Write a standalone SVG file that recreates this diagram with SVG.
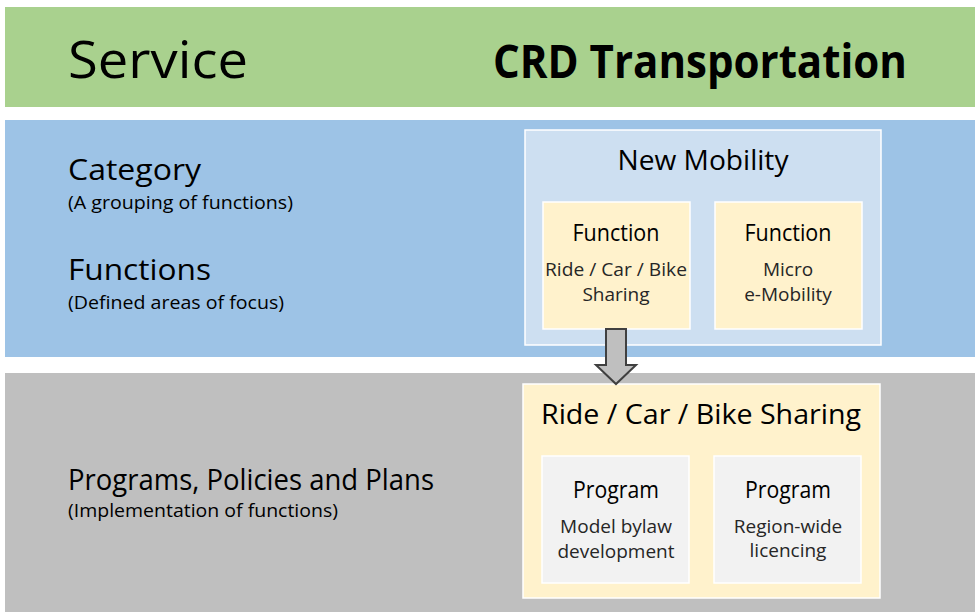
<svg xmlns="http://www.w3.org/2000/svg" width="977" height="612" viewBox="0 0 977 612">
<style>
text{font-family:"Open Sans","Liberation Sans",sans-serif;fill:#000}
.t{font-size:23px;text-anchor:middle}
.s{font-size:19px;text-anchor:middle;fill:#262626}
.h{font-size:30px}
.sub{font-size:19px}
.fn{fill:#fff2cc;stroke:#fff;stroke-width:1.5}
.pg{fill:#f2f2f2;stroke:#fff;stroke-width:1.5}
</style>
<rect width="977" height="612" fill="#fff"/>
<g id="band-service">
<rect x="5" y="7" width="970" height="100" fill="#a9d18e"/>
<text x="68" y="78" font-size="52" textLength="180" lengthAdjust="spacingAndGlyphs">Service</text>
<text x="493" y="78" font-size="46" font-weight="bold" textLength="414" lengthAdjust="spacingAndGlyphs">CRD Transportation</text>
</g>
<g id="band-category">
<rect x="5" y="120" width="970" height="237" fill="#9dc3e6"/>
<text class="h" x="68" y="180" textLength="133" lengthAdjust="spacingAndGlyphs">Category</text>
<text class="sub" x="68" y="209" textLength="225" lengthAdjust="spacingAndGlyphs">(A grouping of functions)</text>
<text class="h" x="68" y="280" textLength="143" lengthAdjust="spacingAndGlyphs">Functions</text>
<text class="sub" x="68" y="309" textLength="216" lengthAdjust="spacingAndGlyphs">(Defined areas of focus)</text>
</g>
<g id="band-programs">
<rect x="5" y="373" width="970" height="239" fill="#bfbfbf"/>
<text class="h" x="68" y="490" textLength="366" lengthAdjust="spacingAndGlyphs">Programs, Policies and Plans</text>
<text class="sub" x="68" y="517" textLength="270" lengthAdjust="spacingAndGlyphs">(Implementation of functions)</text>
</g>
<g id="new-mobility">
<rect x="525" y="130" width="356" height="215" fill="#cddff1" stroke="#fff" stroke-width="1.5"/>
<text x="703" y="170" font-size="28" text-anchor="middle" textLength="171" lengthAdjust="spacingAndGlyphs">New Mobility</text>
</g>
<g id="function-sharing">
<rect class="fn" x="543" y="202" width="147" height="127"/>
<text class="t" x="616" y="241" textLength="87" lengthAdjust="spacingAndGlyphs">Function</text>
<text class="s" x="616" y="276" textLength="142" lengthAdjust="spacingAndGlyphs">Ride / Car / Bike</text>
<text class="s" x="616" y="301">Sharing</text>
</g>
<g id="function-micro">
<rect class="fn" x="715" y="202" width="147" height="127"/>
<text class="t" x="788" y="241" textLength="87" lengthAdjust="spacingAndGlyphs">Function</text>
<text class="s" x="788" y="276">Micro</text>
<text class="s" x="788" y="301">e-Mobility</text>
</g>
<g id="ride-sharing">
<rect x="523" y="384" width="357" height="214" fill="#fff2cc" stroke="#fff" stroke-width="1.5"/>
<text x="701" y="424" font-size="28" text-anchor="middle" textLength="320" lengthAdjust="spacingAndGlyphs">Ride / Car / Bike Sharing</text>
</g>
<g id="program-bylaw">
<rect class="pg" x="542" y="456" width="147" height="127"/>
<text class="t" x="616" y="498" textLength="86" lengthAdjust="spacingAndGlyphs">Program</text>
<text class="s" x="616" y="533">Model bylaw</text>
<text class="s" x="616" y="558">development</text>
</g>
<g id="program-licencing">
<rect class="pg" x="714" y="456" width="147" height="127"/>
<text class="t" x="788" y="498" textLength="86" lengthAdjust="spacingAndGlyphs">Program</text>
<text class="s" x="788" y="533">Region-wide</text>
<text class="s" x="788" y="557">licencing</text>
</g>
<g id="connectors">
<path d="M606,329 H626 V365 H636 L616,384 L596,365 H606 Z" fill="#bfbfbf" stroke="#404040" stroke-width="2" stroke-linejoin="miter"/>
</g>
</svg>
